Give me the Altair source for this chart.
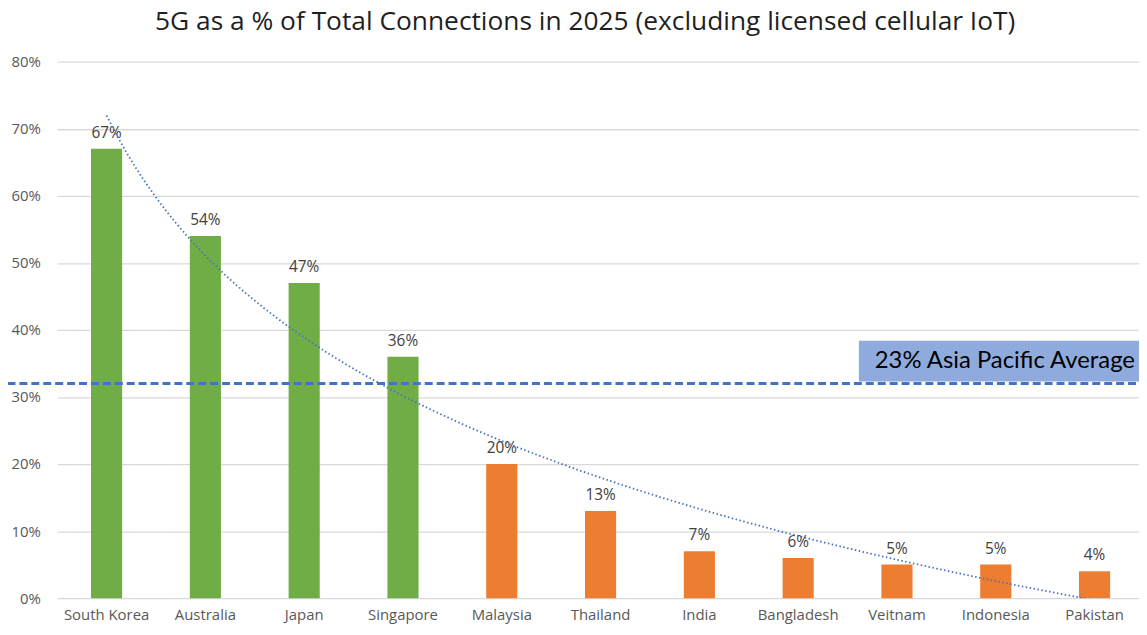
import altair as alt
import pandas as pd

countries = ["South Korea", "Australia", "Japan", "Singapore", "Malaysia", "Thailand",
             "India", "Bangladesh", "Veitnam", "Indonesia", "Pakistan"]
shares = [0.67, 0.54, 0.47, 0.36, 0.20, 0.13, 0.07, 0.06, 0.05, 0.05, 0.04]
groups = ["lead"] * 4 + ["rest"] * 7
avg_line = 0.32
avg_label = "23% Asia Pacific Average"
title = "5G as a % of Total Connections in 2025 (excluding licensed cellular IoT)"

df = pd.DataFrame({
    "country": countries,
    "share": shares,
    "group": groups,
    "idx": list(range(1, len(countries) + 1)),
})

FONT = "Open Sans"
BOXFONT = "Lato"
W = 1089
RANGE = 1094
H = 540

xband = alt.X("country:N", sort=countries,
              scale=alt.Scale(paddingInner=0.685, paddingOuter=0.3425, range=[0, RANGE]),
              axis=alt.Axis(title=None, labelAngle=0, labelFont=FONT, labelFontSize=15,
                            labelColor="#595959", domain=False, ticks=False, labelPadding=10,
                            grid=False))
yscale = alt.Scale(domain=[0, 0.8])
yaxis = alt.Axis(title=None, format=".0%", values=[0, .1, .2, .3, .4, .5, .6, .7, .8],
                 labelFont=FONT, labelFontSize=15, labelColor="#595959", domain=False,
                 ticks=False, labelPadding=17, grid=True, gridColor="#d9d9d9", gridWidth=1.3)

base = alt.Chart(df)

bars = base.mark_bar().encode(
    x=xband,
    y=alt.Y("share:Q", scale=yscale, axis=yaxis),
    color=alt.Color("group:N", scale=alt.Scale(domain=["lead", "rest"],
                                               range=["#70ad47", "#ed7d31"]), legend=None),
)

labels = base.mark_text(font=FONT, fontSize=15.5, color="#404040", baseline="bottom", dy=-8).encode(
    x=alt.X("country:N", sort=countries),
    y=alt.Y("share:Q"),
    text=alt.Text("share:Q", format=".0%"),
)

bar_layer = alt.layer(bars, labels)

xq = alt.X("idx:Q", scale=alt.Scale(domain=[0.5, 11.5], range=[0, RANGE], nice=False, zero=False),
           axis=None)

trend = base.transform_regression("idx", "share", method="log").mark_line(
    color="#4472c4", strokeWidth=1.8, strokeDash=[1.5, 2.5], clip=True
).encode(x=xq, y=alt.Y("share:Q", scale=yscale))

avg_df = pd.DataFrame({"y": [avg_line]})
avg_rule = alt.Chart(avg_df).mark_rule(color="#4472c4", strokeWidth=3, strokeDash=[8, 4]).encode(
    y=alt.Y("y:Q", scale=yscale),
    x=alt.value(-50), x2=alt.value(1100),
)

box = alt.Chart(avg_df).transform_calculate(yb="datum.y + 0.003").mark_rect(color="#8faadc").encode(
    y=alt.Y("yb:Q", scale=yscale),
    y2=alt.datum(0.384),
    x=alt.value(807), x2=alt.value(1100),
)

box_text = alt.Chart(pd.DataFrame({"t": [avg_label], "y": [0.3535]})).mark_text(
    font=BOXFONT, fontSize=24, color="#000000", align="left", baseline="middle"
).encode(
    y=alt.Y("y:Q", scale=yscale),
    x=alt.value(823),
    text="t:N",
)

over = alt.layer(trend, box, avg_rule, box_text)

chart = alt.layer(bar_layer, over).resolve_scale(x="independent").properties(
    width=W, height=H,
    title=alt.TitleParams(title, font=FONT, fontSize=26.5, fontWeight="normal", color="#1f1f1f",
                          anchor="middle", offset=19, dx=-13),
    padding={"left": 49.5, "top": 52, "right": 0, "bottom": 26},
    autosize=alt.AutoSizeParams(type="none"),
).configure_view(stroke=None)

chart.save("out.html", embed_options={"renderer": "svg", "actions": False})
